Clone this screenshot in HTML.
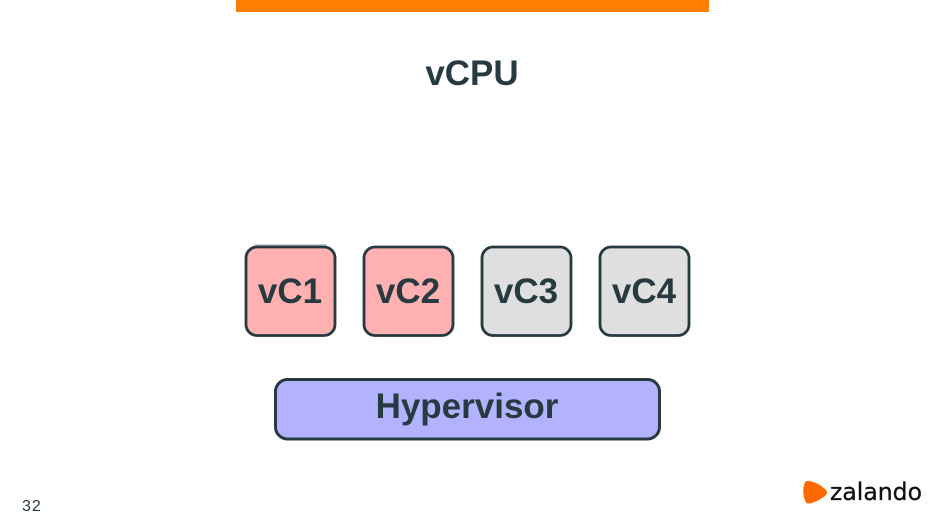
<!DOCTYPE html>
<html>
<head>
<meta charset="utf-8">
<style>
html,body{margin:0;padding:0;background:#fff}
body{width:945px;height:531px;overflow:hidden;position:relative}
svg{position:absolute;left:0;top:0}
text{font-family:"Liberation Sans",sans-serif;fill:#263a40}
.b{font-weight:bold}
</style>
</head>
<body>
<svg width="945" height="531" viewBox="0 0 945 531" xmlns="http://www.w3.org/2000/svg">
<rect x="236" y="0" width="473" height="12" fill="#ff8000"/>
<text x="472" y="85" text-anchor="middle" class="b" font-size="35">vCPU</text>

<line x1="254" y1="245" x2="327" y2="245" stroke="#9aa5a8" stroke-width="1"/>
<rect x="246" y="247" width="89" height="88.5" rx="11" fill="#ffb0b0" stroke="#263a40" stroke-width="2.8"/>
<rect x="364" y="247" width="89" height="88.5" rx="11" fill="#ffb0b0" stroke="#263a40" stroke-width="2.8"/>
<rect x="482" y="247" width="89" height="88.5" rx="11" fill="#dfdfdf" stroke="#263a40" stroke-width="2.8"/>
<rect x="600" y="247" width="89" height="88.5" rx="11" fill="#dfdfdf" stroke="#263a40" stroke-width="2.8"/>

<text x="290" y="303" text-anchor="middle" class="b" font-size="35">vC1</text>
<text x="408" y="303" text-anchor="middle" class="b" font-size="35">vC2</text>
<text x="526" y="303" text-anchor="middle" class="b" font-size="35">vC3</text>
<text x="644" y="303" text-anchor="middle" class="b" font-size="35">vC4</text>

<rect x="275.5" y="379.5" width="384" height="59.5" rx="12" fill="#b2b2ff" stroke="#263a40" stroke-width="3"/>
<text x="467" y="418" text-anchor="middle" class="b" font-size="35">Hypervisor</text>

<text x="22" y="511" font-size="16" letter-spacing="1">32</text>

<path d="M806 481 C811 480.5 819 483 825.5 489.5 C827.5 491.5 827.5 493.5 825.5 495.5 C819 500.5 812 504 807 503.5 C803 499.5 801.5 486 806 481 Z" fill="#ff6900"/>
<text x="830" y="500" font-size="24" textLength="92" lengthAdjust="spacingAndGlyphs" stroke="#111" stroke-width="0.3" style="font-family:'DejaVu Sans',sans-serif;fill:#111">zalando</text>
</svg>
</body>
</html>
